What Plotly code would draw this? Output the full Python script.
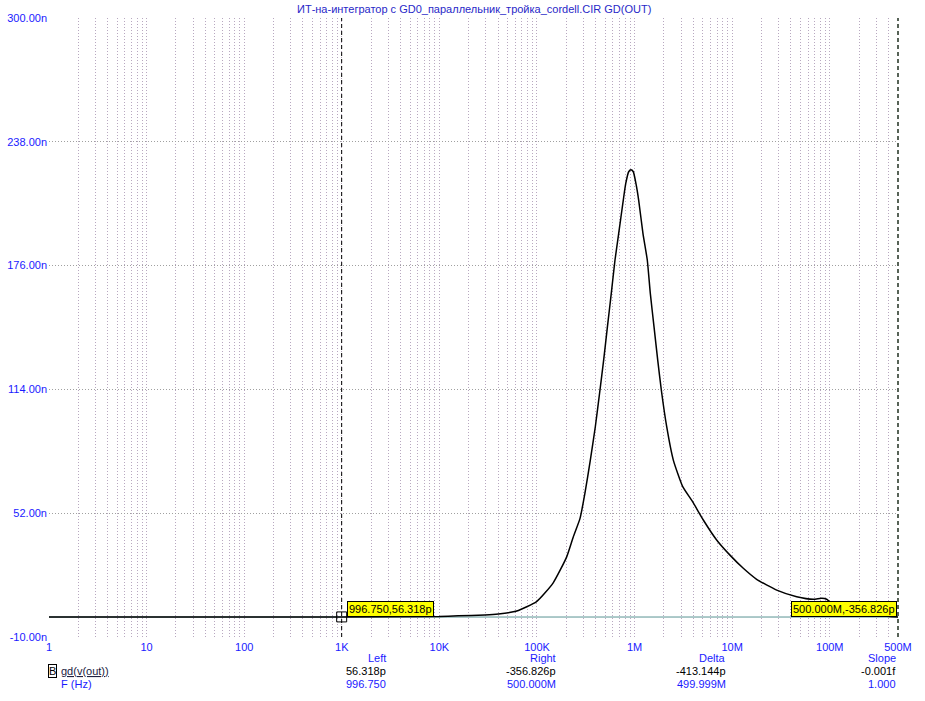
import math
import plotly.graph_objects as go

# ---------------- data ----------------
freq_hz = [1, 10, 100, 1000, 10000, 15.6e3, 29.3e3, 40.2e3, 62e3, 99e3, 146e3, 201e3,
           235e3, 276e3, 310e3, 352e3, 396e3, 442e3, 482e3, 527e3, 577e3, 630e3,
           687e3, 766e3, 811e3, 870e3, 918e3, 970e3, 1.033e6, 1.101e6, 1.219e6, 1.349e6,
           1.449e6, 1.581e6, 1.726e6, 1.879e6, 2.133e6, 2.494e6, 3.113e6, 3.9e6, 5.06e6,
           6.93e6, 9.49e6, 13.0e6, 17.8e6, 28.6e6, 45.8e6, 67.8e6, 82.6e6, 92.9e6,
           104e6, 150e6, 250e6, 500e6]
gd_ns = [0, 0, 0, 0.056, 0.3, 0.6, 1.0, 1.5, 3.0, 7.7, 17, 30, 40, 49.4, 62, 78.6,
         95.3, 113.7, 128.7, 145.4, 162.1, 178.8, 192, 208.8, 217, 223, 224, 223, 217,
         208.8, 192, 178.8, 162.1, 145.4, 128.7, 113.7, 95.3, 78.6, 65.3, 58, 48.6,
         38.6, 31, 24.4, 18.9, 13.5, 10.2, 8.9, 9.4, 8.9, 6.9, 3, 1, -0.00036]

x_tick_vals = [1, 10, 100, 1e3, 1e4, 1e5, 1e6, 1e7, 1e8, 5e8]
x_tick_text = ["1", "10", "100", "1K", "10K", "100K", "1M", "10M", "100M", "500M"]
y_tick_vals = [-10, 52, 114, 176, 238, 300]
y_tick_text = ["-10.00n", "52.00n", "114.00n", "176.00n", "238.00n", "300.00n"]

left_cursor = (996.750, 0.056318)
right_cursor = (500e6, -0.000356826)
left_label = "996.750,56.318p"
right_label = "500.000M,-356.826p"

table_headers = ["Left", "Right", "Delta", "Slope"]
gd_row = ["56.318p", "-356.826p", "-413.144p", "-0.001f"]
f_row = ["996.750", "500.000M", "499.999M", "1.000"]

title_text = "ИТ-на-интегратор с GD0_параллельник_тройка_cordell.CIR GD(OUT)"

# ---------------- figure ----------------
W, H = 925, 701
L, R, T, B = 49, 27, 18, 64
pw, ph = W - L - R, H - T - B
FONT = "Arial, Liberation Sans, sans-serif"
BLUE = "#1a1aff"
GRID = "#b8a8c0"
DOTS = "1px,2px"

def px_x(px):
    return (px - L) / pw

def px_y(py):
    return (H - B - py) / ph

minor_vals = [k * 10 ** d for d in range(0, 9) for k in range(2, 10) if k * 10 ** d < 5e8]

fig = go.Figure()

# zero line
fig.add_trace(go.Scatter(x=[freq_hz[0], freq_hz[-1]], y=[0, 0], mode="lines",
                         line=dict(color="#5a9494", width=1), hoverinfo="skip"))
# left cursor line
fig.add_trace(go.Scatter(x=[left_cursor[0], left_cursor[0]], y=[-10, 300], mode="lines",
                         line=dict(color="black", width=1, dash="4px,3px"), hoverinfo="skip"))
# curve
fig.add_trace(go.Scatter(x=freq_hz, y=gd_ns, mode="lines",
                         line=dict(color="black", width=1.5, shape="spline", smoothing=0.5),
                         hoverinfo="skip"))
# cursor marker
fig.add_trace(go.Scatter(x=[left_cursor[0]], y=[left_cursor[1]], mode="markers",
                         marker=dict(symbol="square-open", size=10, color="black",
                                     line=dict(width=1)), hoverinfo="skip"))

fig.update_layout(
    width=W, height=H,
    margin=dict(l=L, r=R, t=T, b=B, pad=0, autoexpand=False),
    paper_bgcolor="white", plot_bgcolor="white",
    showlegend=False,
    font=dict(family=FONT, size=11, color=BLUE),
)
fig.update_xaxes(
    type="log", range=[0, math.log10(5e8)], automargin=False,
    tickmode="array", tickvals=x_tick_vals, ticktext=x_tick_text,
    ticks="", ticklen=0, ticklabelstandoff=2,
    showgrid=True, gridcolor=GRID, griddash=DOTS, gridwidth=1,
    minor=dict(tickmode="array", tickvals=minor_vals, showgrid=True,
               gridcolor=GRID, griddash=DOTS, gridwidth=1, ticks=""),
    zeroline=False, showline=False,
    tickfont=dict(family=FONT, size=11, color=BLUE),
)
fig.update_yaxes(
    range=[-10, 300], automargin=False, tickmode="array", tickvals=y_tick_vals,
    ticktext=y_tick_text, ticks="", ticklen=0, ticklabelstandoff=1,
    showgrid=True, gridcolor="#a0a0a0", griddash=DOTS, gridwidth=1,
    zeroline=False, showline=False,
    tickfont=dict(family=FONT, size=11, color=BLUE),
)

# right cursor at plot edge
fig.add_shape(type="line", xref="paper", yref="paper", x0=1, x1=1, y0=0, y1=1,
              line=dict(color="#203020", width=1.5, dash="4px,3px"))

# title
fig.add_annotation(text=title_text, xref="paper", yref="paper", x=0.5, y=px_y(9),
                   showarrow=False, xanchor="center", yanchor="middle",
                   font=dict(family=FONT, size=11, color="#2828c8"))

# cursor labels
fig.add_annotation(text=left_label, xref="x", yref="y", x=math.log10(left_cursor[0]), y=0,
                   xanchor="left", yanchor="bottom", xshift=5, yshift=0, showarrow=False,
                   bgcolor="#ffff00", bordercolor="black", borderwidth=1, borderpad=1,
                   font=dict(family=FONT, size=11, color="black"))
fig.add_annotation(text=right_label, xref="x", yref="y", x=math.log10(right_cursor[0]), y=0,
                   xanchor="right", yanchor="bottom", xshift=-1, yshift=0, showarrow=False,
                   bgcolor="#ffff00", bordercolor="black", borderwidth=1, borderpad=1,
                   font=dict(family=FONT, size=11, color="black"))

# cursor table
col_right_px = [388, 558, 728, 898]
for i, hdr in enumerate(table_headers):
    xr = px_x(col_right_px[i])
    fig.add_annotation(text=hdr, xref="paper", yref="paper", x=xr, y=px_y(657.5),
                       xanchor="right", yanchor="middle", showarrow=False,
                       font=dict(family=FONT, size=11, color=BLUE))
    fig.add_annotation(text=gd_row[i], xref="paper", yref="paper", x=xr, y=px_y(671),
                       xanchor="right", yanchor="middle", showarrow=False,
                       font=dict(family=FONT, size=11, color="black"))
    fig.add_annotation(text=f_row[i], xref="paper", yref="paper", x=xr, y=px_y(683.5),
                       xanchor="right", yanchor="middle", showarrow=False,
                       font=dict(family=FONT, size=11, color=BLUE))

fig.add_annotation(text="B", xref="paper", yref="paper", x=px_x(48), y=px_y(671),
                   xanchor="left", yanchor="middle", showarrow=False,
                   bordercolor="black", borderwidth=1, borderpad=0,
                   font=dict(family=FONT, size=11, color="black"))
fig.add_annotation(text="<u>gd(v(out))</u>", xref="paper", yref="paper", x=px_x(59), y=px_y(671),
                   xanchor="left", yanchor="middle", showarrow=False,
                   font=dict(family=FONT, size=11, color="#202040"))
fig.add_annotation(text="F (Hz)", xref="paper", yref="paper", x=px_x(59), y=px_y(683.5),
                   xanchor="left", yanchor="middle", showarrow=False,
                   font=dict(family=FONT, size=11, color=BLUE))

# remove the default page margin so the figure sits at the window's top-left corner
fig.write_html("out.html", config={"displayModeBar": False},
               post_script="document.body.style.margin='0';")
